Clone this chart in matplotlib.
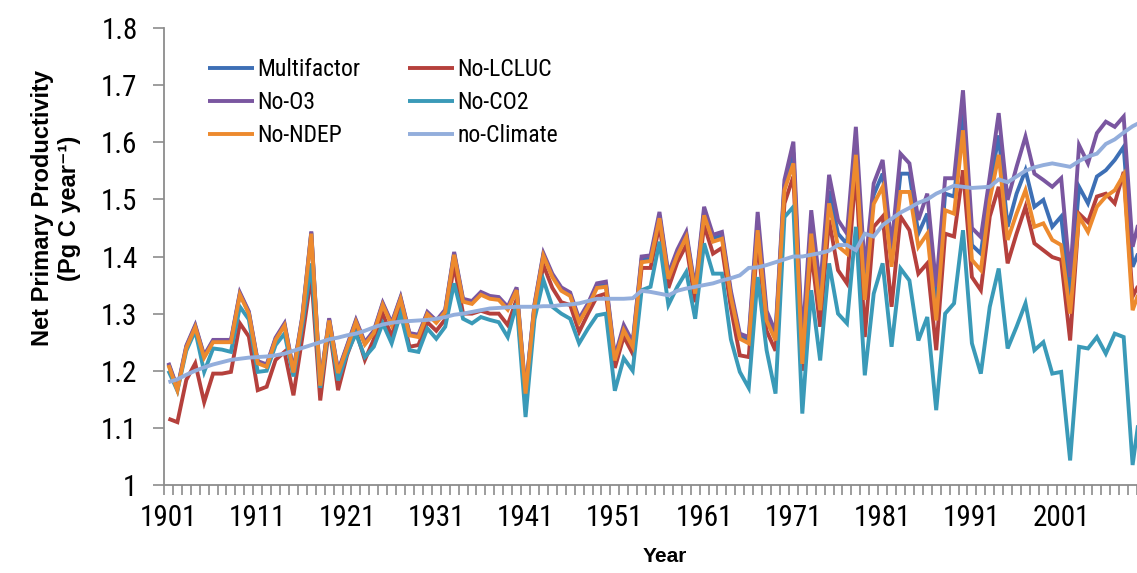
import matplotlib
matplotlib.use("Agg")
import matplotlib.pyplot as plt
from matplotlib import font_manager
import numpy as np

# prefer a narrow sans face for the numbers and legend when one is installed
narrow = None
for f in font_manager.fontManager.ttflist:
    if f.name in ("Liberation Sans Narrow", "Arial Narrow", "Roboto Condensed",
                  "Open Sans Condensed", "DejaVu Sans Condensed"):
        narrow = f.name
        break
if narrow is None:
    for f in font_manager.fontManager.ttflist:
        if f.name == "DejaVu Sans" and f.stretch in ("condensed", "semi-condensed", 600, 500):
            narrow = "DejaVu Sans"
            break
body_font = [narrow, "Liberation Sans", "DejaVu Sans"] if narrow else ["Liberation Sans", "DejaVu Sans"]
plt.rcParams['font.family'] = body_font
if narrow == "DejaVu Sans":
    plt.rcParams['font.stretch'] = "condensed"

years = list(range(1901, 2011))

multifactor = [
    1.212, 1.168, 1.242, 1.278, 1.225, 1.252, 1.252, 1.252, 1.335, 1.302,
    1.215, 1.209, 1.256, 1.281, 1.199, 1.294, 1.442, 1.176, 1.290, 1.198,
    1.242, 1.287, 1.248, 1.268, 1.317, 1.282, 1.327, 1.264, 1.261, 1.301,
    1.286, 1.305, 1.405, 1.323, 1.319, 1.335, 1.328, 1.326, 1.309, 1.343,
    1.162, 1.314, 1.403, 1.367, 1.343, 1.334, 1.288, 1.315, 1.349, 1.351,
    1.221, 1.275, 1.246, 1.395, 1.397, 1.472, 1.365, 1.407, 1.438, 1.339,
    1.479, 1.432, 1.437, 1.334, 1.260, 1.253, 1.460, 1.296, 1.260, 1.525,
    1.582, 1.228, 1.460, 1.322, 1.515, 1.440, 1.422, 1.600, 1.345, 1.508,
    1.545, 1.398, 1.545, 1.545, 1.440, 1.475, 1.315, 1.510, 1.505, 1.655,
    1.420, 1.405, 1.520, 1.612, 1.452, 1.510, 1.551, 1.487, 1.499, 1.452,
    1.470, 1.330, 1.522, 1.493, 1.540, 1.551, 1.569, 1.592, 1.382, 1.420,
]

no_lcluc = [
    1.116, 1.110, 1.184, 1.213, 1.145, 1.195, 1.195, 1.198, 1.283, 1.260,
    1.166, 1.172, 1.219, 1.233, 1.157, 1.259, 1.367, 1.148, 1.277, 1.166,
    1.227, 1.270, 1.219, 1.255, 1.300, 1.260, 1.310, 1.242, 1.245, 1.285,
    1.270, 1.290, 1.385, 1.300, 1.300, 1.305, 1.300, 1.300, 1.280, 1.325,
    1.145, 1.300, 1.385, 1.345, 1.320, 1.315, 1.268, 1.300, 1.330, 1.335,
    1.205, 1.260, 1.230, 1.380, 1.380, 1.455, 1.345, 1.390, 1.420, 1.320,
    1.455, 1.405, 1.415, 1.310, 1.227, 1.224, 1.430, 1.270, 1.235, 1.493,
    1.540, 1.200, 1.410, 1.277, 1.464, 1.376, 1.353, 1.551, 1.259, 1.452,
    1.470, 1.312, 1.470, 1.446, 1.370, 1.388, 1.236, 1.440, 1.435, 1.551,
    1.364, 1.341, 1.470, 1.522, 1.388, 1.440, 1.487, 1.423, 1.411, 1.399,
    1.394, 1.253, 1.475, 1.460, 1.505, 1.510, 1.493, 1.548, 1.330, 1.360,
]

no_o3 = [
    1.214, 1.170, 1.244, 1.280, 1.227, 1.254, 1.254, 1.254, 1.337, 1.304,
    1.217, 1.211, 1.258, 1.283, 1.201, 1.296, 1.444, 1.178, 1.292, 1.200,
    1.244, 1.289, 1.250, 1.270, 1.319, 1.284, 1.329, 1.266, 1.263, 1.303,
    1.288, 1.307, 1.408, 1.326, 1.322, 1.338, 1.331, 1.329, 1.312, 1.346,
    1.164, 1.317, 1.406, 1.370, 1.346, 1.337, 1.291, 1.318, 1.353, 1.356,
    1.225, 1.280, 1.250, 1.400, 1.402, 1.478, 1.370, 1.412, 1.443, 1.344,
    1.487, 1.438, 1.443, 1.340, 1.265, 1.259, 1.478, 1.305, 1.268, 1.534,
    1.601, 1.250, 1.481, 1.345, 1.543, 1.464, 1.440, 1.627, 1.375, 1.528,
    1.569, 1.417, 1.580, 1.563, 1.464, 1.510, 1.347, 1.537, 1.537, 1.691,
    1.450, 1.434, 1.540, 1.651, 1.499, 1.557, 1.610, 1.545, 1.534, 1.522,
    1.537, 1.364, 1.595, 1.563, 1.616, 1.636, 1.627, 1.645, 1.417, 1.480,
]

no_co2 = [
    1.200, 1.165, 1.235, 1.270, 1.198, 1.239, 1.237, 1.233, 1.312, 1.290,
    1.198, 1.200, 1.245, 1.265, 1.190, 1.280, 1.388, 1.170, 1.280, 1.183,
    1.230, 1.265, 1.224, 1.242, 1.283, 1.248, 1.300, 1.236, 1.233, 1.274,
    1.256, 1.277, 1.353, 1.291, 1.283, 1.294, 1.289, 1.285, 1.259, 1.318,
    1.119, 1.290, 1.359, 1.312, 1.300, 1.291, 1.248, 1.274, 1.297, 1.300,
    1.165, 1.222, 1.200, 1.341, 1.347, 1.426, 1.315, 1.347, 1.373, 1.291,
    1.423, 1.370, 1.370, 1.255, 1.198, 1.170, 1.364, 1.236, 1.160, 1.469,
    1.487, 1.125, 1.341, 1.218, 1.388, 1.300, 1.283, 1.452, 1.192, 1.335,
    1.388, 1.242, 1.379, 1.358, 1.253, 1.294, 1.131, 1.300, 1.318, 1.446,
    1.248, 1.195, 1.312, 1.379, 1.239, 1.277, 1.318, 1.236, 1.250, 1.195,
    1.198, 1.043, 1.242, 1.239, 1.259, 1.230, 1.265, 1.259, 1.035, 1.150,
]

no_ndep = [
    1.210, 1.166, 1.240, 1.276, 1.223, 1.250, 1.250, 1.250, 1.333, 1.300,
    1.213, 1.207, 1.254, 1.279, 1.197, 1.292, 1.440, 1.174, 1.288, 1.196,
    1.240, 1.285, 1.246, 1.266, 1.315, 1.280, 1.325, 1.262, 1.259, 1.299,
    1.284, 1.303, 1.403, 1.321, 1.317, 1.333, 1.326, 1.324, 1.307, 1.341,
    1.160, 1.312, 1.401, 1.364, 1.340, 1.331, 1.285, 1.312, 1.345, 1.347,
    1.218, 1.271, 1.242, 1.390, 1.392, 1.467, 1.361, 1.402, 1.434, 1.335,
    1.472, 1.426, 1.431, 1.329, 1.256, 1.248, 1.446, 1.288, 1.253, 1.516,
    1.563, 1.212, 1.440, 1.306, 1.493, 1.418, 1.405, 1.578, 1.324, 1.492,
    1.522, 1.382, 1.513, 1.513, 1.417, 1.440, 1.288, 1.481, 1.475, 1.621,
    1.394, 1.376, 1.499, 1.578, 1.429, 1.475, 1.516, 1.452, 1.458, 1.429,
    1.420, 1.300, 1.470, 1.443, 1.487, 1.505, 1.516, 1.543, 1.306, 1.350,
]

no_climate = [
    1.180, 1.185, 1.193, 1.200, 1.206, 1.211, 1.215, 1.219, 1.221, 1.223,
    1.224, 1.225, 1.227, 1.230, 1.235, 1.240, 1.245, 1.250, 1.255, 1.258,
    1.262, 1.265, 1.270, 1.276, 1.281, 1.284, 1.286, 1.287, 1.288, 1.289,
    1.291, 1.294, 1.298, 1.300, 1.303, 1.306, 1.309, 1.310, 1.311, 1.312,
    1.312, 1.312, 1.313, 1.313, 1.315, 1.316, 1.318, 1.322, 1.326, 1.326,
    1.326, 1.326, 1.327, 1.340, 1.338, 1.335, 1.332, 1.340, 1.344, 1.347,
    1.350, 1.353, 1.358, 1.362, 1.367, 1.380, 1.381, 1.385, 1.390, 1.395,
    1.400, 1.400, 1.403, 1.406, 1.410, 1.420, 1.420, 1.411, 1.440, 1.435,
    1.455, 1.466, 1.477, 1.485, 1.494, 1.500, 1.510, 1.517, 1.524, 1.522,
    1.520, 1.521, 1.522, 1.535, 1.530, 1.540, 1.550, 1.556, 1.560, 1.563,
    1.560, 1.557, 1.567, 1.575, 1.580, 1.597, 1.605, 1.617, 1.628, 1.636,
]

series = [
    ("Multifactor", multifactor, "#3d6fb5"),
    ("No-LCLUC", no_lcluc, "#b5403c"),
    ("No-O3", no_o3, "#7a56a0"),
    ("No-CO2", no_co2, "#3a9ab8"),
    ("No-NDEP", no_ndep, "#ed8a2e"),
    ("no-Climate", no_climate, "#93aedc"),
]

fig = plt.figure(figsize=(11.37, 5.73), dpi=100)
ax = fig.add_axes([164 / 1137, 1 - 485 / 573, 982 / 1137, 457 / 573])

x = np.arange(len(years))
handles = {}
for name, vals, col in series:
    line, = ax.plot(x, vals, color=col, lw=2.8, label=name,
                    solid_joinstyle="miter", solid_capstyle="butt")
    handles[name] = line

ax.set_xlim(-0.5, len(years) - 0.5)
ax.set_ylim(1.0, 1.8)

tick_size = 21 if narrow else 19

# y axis: Excel-style general number format
yt = np.round(np.arange(1.0, 1.81, 0.1), 1)
ax.set_yticks(yt)
ax.set_yticklabels([f"{v:g}" for v in yt])
ax.tick_params(axis="y", direction="out", length=8, width=1.2, color="#8c8c8c",
               labelsize=tick_size, pad=11)

# x axis: a tick between every category, labels every ten years
ax.set_xticks(x[::10])
ax.set_xticklabels([str(years[i]) for i in x[::10]])
ax.set_xticks(np.arange(len(years) + 1) - 0.5, minor=True)
ax.tick_params(axis="x", which="major", length=0, labelsize=tick_size, pad=14)
ax.tick_params(axis="x", which="minor", direction="out", length=7, width=1.2,
               color="#8c8c8c")

for side in ("top", "right"):
    ax.spines[side].set_visible(False)
for side in ("left", "bottom"):
    ax.spines[side].set_color("#8c8c8c")
    ax.spines[side].set_linewidth(1.3)

order = ["Multifactor", "No-O3", "No-NDEP", "No-LCLUC", "No-CO2", "no-Climate"]
fig.legend([handles[n] for n in order], order, ncol=2, frameon=False,
           loc="upper left", bbox_to_anchor=(208 / 1137, 1 - 58 / 573),
           borderpad=0, borderaxespad=0, fontsize=17, handlelength=1.95,
           handletextpad=0.15, columnspacing=2.0, labelspacing=0.42)

fig.text(56 / 1137, 1 - 208 / 573, "Net Primary Productivity\n(Pg C year\u207b\u00b9)",
         rotation=90, ha="center", va="center", multialignment="center",
         fontsize=17, fontweight="bold", linespacing=1.25, stretch="normal",
         family=["Liberation Sans", "DejaVu Sans"])
fig.text(665 / 1137, 1 - 556 / 573, "Year", ha="center", va="center",
         fontsize=15, fontweight="bold", stretch="normal",
         family=["Liberation Sans", "DejaVu Sans"])

fig.savefig("out.png", dpi=100)
